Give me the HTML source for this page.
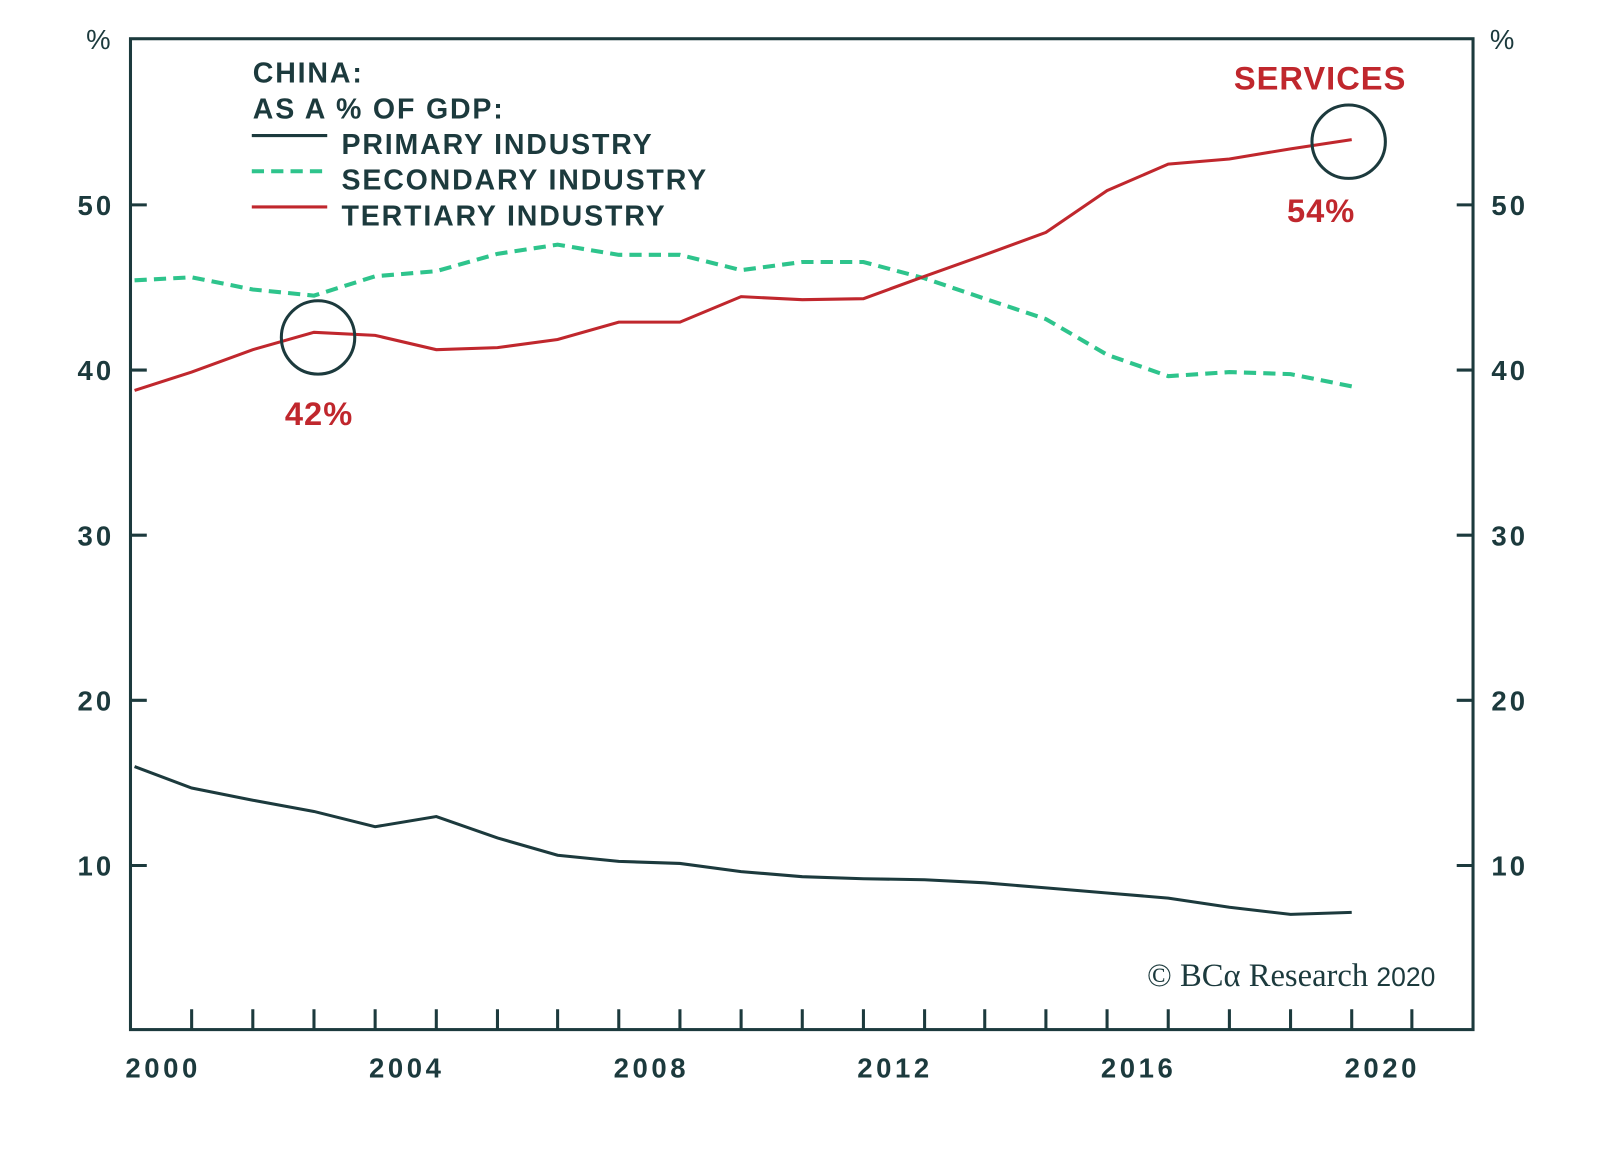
<!DOCTYPE html>
<html><head><style>html,body{margin:0;padding:0;background:#fff}svg{display:block}</style></head>
<body>
<svg width="1600" height="1151" viewBox="0 0 1600 1151" xmlns="http://www.w3.org/2000/svg" font-family="Liberation Sans, sans-serif">
<rect width="1600" height="1151" fill="#fff"/>
<g transform="scale(1.0194)">
<rect x="128" y="38" width="1317" height="972" fill="none" stroke="#1c3a3d" stroke-width="3"/>
<g stroke="#1c3a3d" stroke-width="3">
<line x1="128" y1="201" x2="144" y2="201"/><line x1="128" y1="363" x2="144" y2="363"/><line x1="128" y1="525" x2="144" y2="525"/><line x1="128" y1="687" x2="144" y2="687"/><line x1="128" y1="849" x2="144" y2="849"/>
<line x1="1429" y1="201" x2="1445" y2="201"/><line x1="1429" y1="363" x2="1445" y2="363"/><line x1="1429" y1="525" x2="1445" y2="525"/><line x1="1429" y1="687" x2="1445" y2="687"/><line x1="1429" y1="849" x2="1445" y2="849"/>
<path d="M188 990V1010M248 990V1010M308 990V1010M368 990V1010M428 990V1010M488 990V1010M547 990V1010M607 990V1010M667 990V1010M727 990V1010M787 990V1010M847 990V1010M907 990V1010M966 990V1010M1026 990V1010M1086 990V1010M1146 990V1010M1206 990V1010M1266 990V1010M1326 990V1010M1385 990V1010"/>
</g>
<g fill="#1c3a3d" font-size="27" font-weight="bold" letter-spacing="3">
<text x="94" y="211" text-anchor="middle">50</text><text x="94" y="373" text-anchor="middle">40</text><text x="94" y="535" text-anchor="middle">30</text><text x="94" y="697" text-anchor="middle">20</text><text x="94" y="859" text-anchor="middle">10</text>
<text x="1481" y="211" text-anchor="middle">50</text><text x="1481" y="373" text-anchor="middle">40</text><text x="1481" y="535" text-anchor="middle">30</text><text x="1481" y="697" text-anchor="middle">20</text><text x="1481" y="859" text-anchor="middle">10</text>
<text x="98" y="48" text-anchor="middle" font-weight="normal">%</text><text x="1475" y="48" text-anchor="middle" font-weight="normal">%</text>
</g>
<g fill="#1c3a3d" font-size="27" font-weight="bold" letter-spacing="3.5">
<text x="160" y="1057" text-anchor="middle">2000</text><text x="399" y="1057" text-anchor="middle">2004</text><text x="639" y="1057" text-anchor="middle">2008</text><text x="878" y="1057" text-anchor="middle">2012</text><text x="1117" y="1057" text-anchor="middle">2016</text><text x="1356" y="1057" text-anchor="middle">2020</text>
</g>
<g font-size="28" fill="#1c3a3d" font-weight="bold" letter-spacing="1.8">
<text x="248" y="81">CHINA:</text><text x="248" y="116">AS A % OF GDP:</text>
<text x="335" y="151">PRIMARY INDUSTRY</text><text x="335" y="186">SECONDARY INDUSTRY</text><text x="335" y="221">TERTIARY INDUSTRY</text>
</g>
<line x1="247" y1="133" x2="321" y2="133" stroke="#1c3a3d" stroke-width="3"/>
<line x1="247" y1="168" x2="321" y2="168" stroke="#2ec48c" stroke-width="4" stroke-dasharray="12,7"/>
<line x1="247" y1="203" x2="321" y2="203" stroke="#c0272d" stroke-width="3"/>
<polyline fill="none" stroke="#1c3a3d" stroke-width="3" points="132,752 188,773 248,785 308,796 368,811 428,801 488,822 547,839 607,845 667,847 727,855 787,860 847,862 907,863 966,866 1026,871 1086,876 1146,881 1206,890 1266,897 1326,895"/>
<polyline fill="none" stroke="#2ec48c" stroke-width="4" stroke-dasharray="12,7" points="132,275 188,272 248,284 308,290 368,271 428,266 488,249 547,240 607,250 667,250 727,265 787,257 847,257 907,273 966,293 1026,313 1086,348 1146,369 1206,365 1266,367 1326,379"/>
<polyline fill="none" stroke="#c0272d" stroke-width="3" points="132,383 188,365 248,343 308,326 368,329 428,343 488,341 547,333 607,316 667,316 727,291 787,294 847,293 907,271 966,250 1026,228 1086,187 1146,161 1206,156 1266,146 1326,137"/>
<circle cx="312" cy="331" r="36" fill="none" stroke="#1c3a3d" stroke-width="3"/>
<circle cx="1323" cy="139" r="36" fill="none" stroke="#1c3a3d" stroke-width="3"/>
<g fill="#c0272d" font-size="32" font-weight="bold" letter-spacing="1">
<text x="313" y="417" text-anchor="middle">42%</text>
<text x="1296" y="218" text-anchor="middle">54%</text>
<text x="1295" y="88" text-anchor="middle">SERVICES</text>
</g>
<text x="1408" y="967" text-anchor="end" font-family="Liberation Serif, serif" font-size="32" fill="#1c3a3d">© BCα Research <tspan font-family="Liberation Sans, sans-serif" font-size="26">2020</tspan></text>
</g>
</svg>
</body></html>
